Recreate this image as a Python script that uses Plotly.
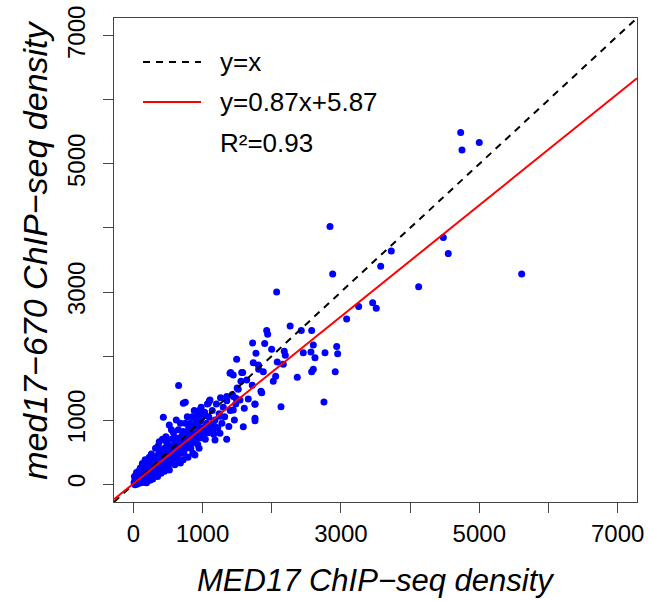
import plotly.graph_objects as go

# MED17 (x) vs med17-670 (y) ChIP-seq density
cluster_x = [10, 20, 30, 40, 50, 60, 70, 80, 90, 100, 15, 45, 75, 100, 25, 60, 110,
             120, 130, 140, 150, 160, 170, 180, 190, 200, 130, 170, 150, 190, 200,
             210, 220, 230, 240, 250, 260, 270, 280, 290, 300, 230, 260, 280, 300,
             310, 320, 330, 340, 350, 360, 370, 380, 390, 400, 320, 360, 350, 400,
             410, 420, 430, 440, 450, 460, 470, 480, 490, 500, 420, 470, 450, 500,
             510, 520, 530, 540, 550, 560, 570, 580, 590, 600, 550, 520, 600,
             610, 620, 630, 640, 650, 660, 670, 680, 690, 700, 620, 680,
             710, 720, 730, 740, 750, 760, 770, 780, 790, 800, 720, 790,
             810, 820, 830, 840, 850, 860, 870, 880, 890, 900, 860,
             910, 920, 930, 940, 950, 960, 970, 980, 990, 1000, 950,
             1010, 1030, 1040, 1060, 1070, 1080, 1090, 1100,
             1120, 1140, 1160, 1180, 1200, 1220, 1240, 1260, 1280, 1300,
             1320, 1350, 1380, 1400, 1430, 1460, 1480, 1500,
             150, 250, 350, 450, 550, 650, 750, 850, 950, 1050, 1150, 1250,
             180, 280, 380, 480, 580, 680, 780, 880, 980, 1080, 1180,
             40, 90, 140, 190, 240, 290, 340, 390, 440, 490]
cluster_y = [20, 50, 10, 80, 30, 100, 60, 140, 40, 90, 120, 180, 200, 250, -10, 0, 20,
             150, 60, 200, 110, 280, 70, 160, 230, 120, 320, 380, 30, 60, 310,
             200, 90, 270, 160, 340, 110, 220, 300, 180, 400, 420, 470, 80, 130,
             250, 350, 160, 290, 450, 200, 330, 520, 260, 400, 560, 600, 120, 170,
             330, 480, 240, 380, 560, 300, 430, 650, 350, 500, 700, 740, 200, 260,
             420, 600, 320, 470, 700, 380, 550, 800, 450, 620, 850, 220, 300,
             520, 720, 400, 600, 850, 470, 660, 950, 540, 750, 1000, 330,
             600, 820, 480, 700, 950, 560, 780, 1050, 640, 880, 380, 420,
             720, 950, 560, 800, 1050, 650, 900, 1150, 700, 980, 480,
             800, 1050, 620, 900, 1150, 720, 980, 1200, 800, 1050, 560,
             880, 1120, 700, 950, 1250, 800, 1050, 1300,
             900, 1150, 780, 1000, 1250, 880, 1100, 1350, 950, 1200,
             1050, 1300, 900, 1150, 1400, 1000, 1250, 1500,
             180, 260, 330, 420, 500, 580, 660, 740, 820, 900, 980, 1060,
             90, 190, 280, 360, 430, 520, 590, 680, 740, 830, 900,
             140, 190, 240, 20, 60, 110, 140, 200, 280, 310]

outlier_x = [654, 433, 722, 751, 519, 374, 938, 1107, 1083, 1349, 1397, 1566, 1758,
             1589, 1758, 1349, 1444, 1855, 1011, 1155, 1252, 890, 1180,
             2266, 1927, 1941, 2427, 2577, 1724, 1898, 1999, 1772, 2181, 2196,
             2601, 2456, 2567, 2770, 2939, 2953, 2625, 1493, 1733, 1806, 2080,
             2167, 2601, 2577, 2918, 1406, 1444, 1580, 1878, 1811, 2057, 2369,
             2022, 1555, 1638, 1719, 1844, 1516, 1483, 1541, 1661, 1444, 1758,
             2134, 2755, 1603, 1758,
             4731, 4750, 5000, 2842, 4480, 4552, 3728, 3575, 2881, 5613, 4124,
             3257, 3459, 3511, 3083, 2071]
outlier_y = [1538, 1044, 1262, 1278, 923, 663, 1131, 1314, 1262, 1366, 1731, 1741, 1247,
             897, 991, 700, 1158, 1428, 794, 819, 794, 455, 689,
             2470, 2397, 2340, 2397, 2397, 2205, 2194, 2106, 2044, 2075, 2013,
             2173, 2053, 2064, 2053, 2147, 2037, 1975, 1950, 1897, 1861, 1908,
             1872, 1794, 1756, 1756, 1741, 1705, 1741, 1756, 1794, 1684, 1669,
             1606, 1606, 1627, 1544, 1450, 1481, 1341, 1314, 1330, 1366, 1252,
             1209, 1283, 1184, 1028,
             5491, 5220, 5335, 4022, 3850, 3600, 3642, 3403, 3283, 3283, 3084,
             2772, 2834, 2747, 2580, 3002]

fit_slope = 0.87
fit_intercept = 5.87
r_squared = 0.93
tick_vals = [0, 1000, 2000, 3000, 4000, 5000, 6000, 7000]
tick_text = ["0", "1000", "", "3000", "", "5000", "", "7000"]

lim = [-280, 7280]
font = "Liberation Sans, Arial, sans-serif"

fig = go.Figure()
fig.add_trace(go.Scatter(x=cluster_x + outlier_x, y=cluster_y + outlier_y, mode="markers",
                         marker=dict(color="#0000FF", size=7, line=dict(width=0)),
                         showlegend=False))
fig.add_trace(go.Scatter(x=lim, y=lim, mode="lines",
                         line=dict(color="black", width=2, dash="7px,6px"),
                         showlegend=False))
fig.add_trace(go.Scatter(x=lim, y=[fit_slope * v + fit_intercept for v in lim], mode="lines",
                         line=dict(color="#FF0000", width=2), showlegend=False))

axis_style = dict(range=lim, tickvals=tick_vals, ticktext=tick_text, ticks="outside",
                  ticklen=10, tickwidth=1, tickcolor="#444", showline=True, linecolor="#444",
                  linewidth=1, mirror=True, showgrid=False, zeroline=False, automargin=False,
                  tickfont=dict(family=font, size=24, color="black"))
fig.update_xaxes(**axis_style)
fig.update_yaxes(**axis_style, tickangle=-90, ticklabelstandoff=8)

fig.update_layout(
    width=649, height=602, autosize=False,
    margin=dict(l=114, r=12, t=18, b=100),
    plot_bgcolor="white", paper_bgcolor="white",
    font=dict(family=font, color="black"),
)

# axis titles
fig.add_annotation(text="<i>MED17 ChIP\u2212seq density</i>", xref="paper", yref="paper",
                   x=0.5, y=-0.162, yanchor="middle", showarrow=False,
                   font=dict(size=31))
fig.add_annotation(text="<i>med17\u2212670 ChIP\u2212seq density</i>", xref="paper", yref="paper",
                   x=-0.15, y=0.52, xanchor="center", textangle=-90, showarrow=False,
                   font=dict(size=34))

# legend drawn R-style without box
px = lambda v: (v - 114) / 523
py = lambda v: (502 - v) / 484
fig.add_shape(type="line", xref="paper", yref="paper", x0=px(143), x1=px(201), y0=py(62), y1=py(62),
              line=dict(color="black", width=2, dash="7px,6px"))
fig.add_shape(type="line", xref="paper", yref="paper", x0=px(143), x1=px(201), y0=py(102), y1=py(102),
              line=dict(color="#FF0000", width=2))
legend_rows = [("y=x", 62), ("y=%.2fx+%.2f" % (fit_slope, fit_intercept), 102),
               ("R\u00b2=%.2f" % r_squared, 143)]
for label, ypix in legend_rows:
    fig.add_annotation(text=label, xref="paper", yref="paper", x=px(218), y=py(ypix),
                       xanchor="left", yanchor="middle", showarrow=False, font=dict(size=26))

fig.write_html("out.html", config={"displayModeBar": False},
               post_script="document.body.style.margin='0';")
